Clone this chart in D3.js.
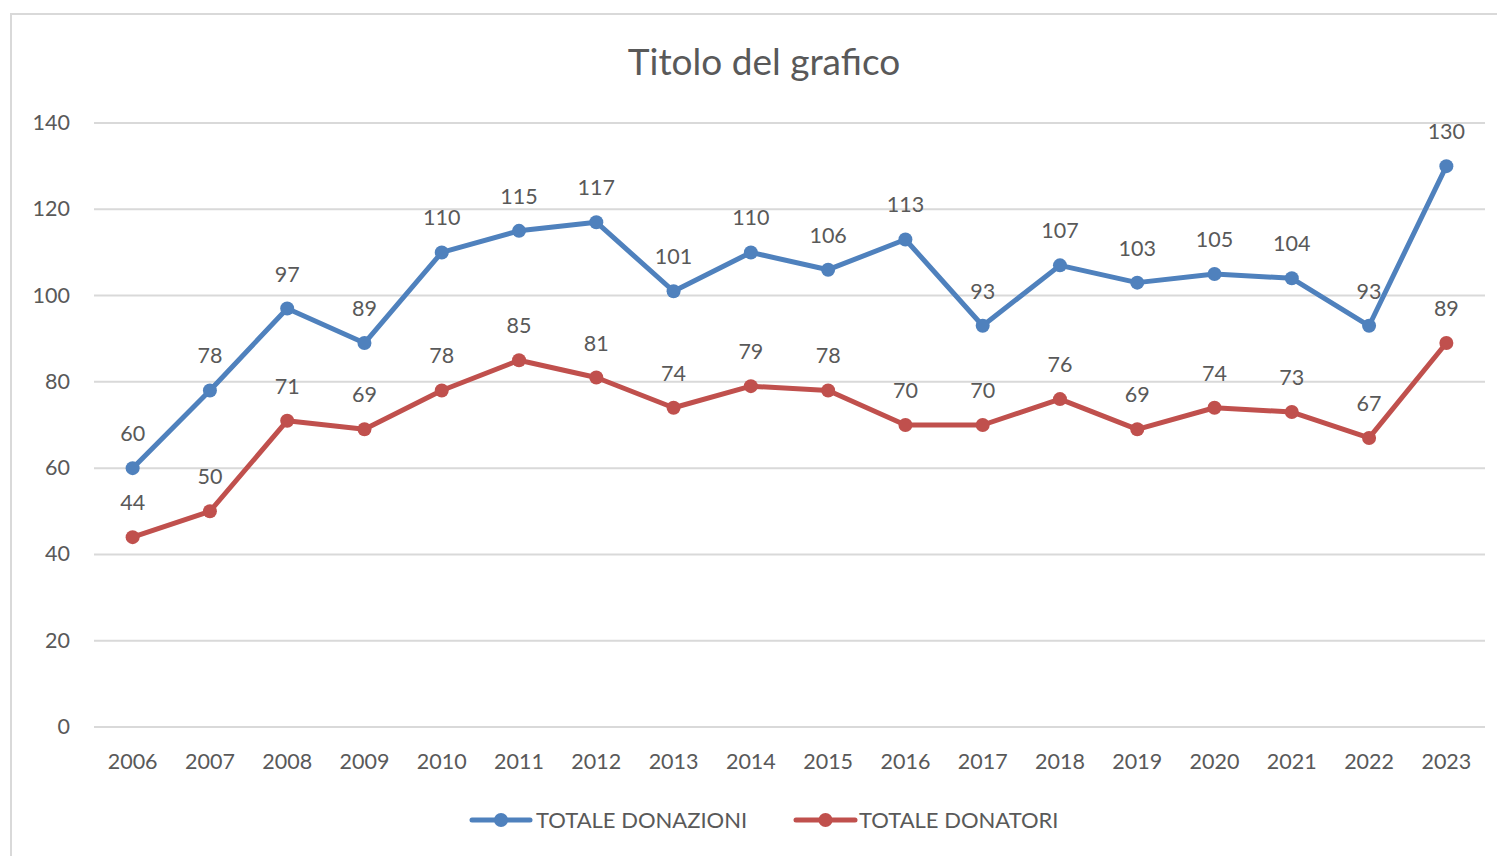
<!DOCTYPE html>
<html><head><meta charset="utf-8">
<script src="https://cdn.jsdelivr.net/npm/d3@7"></script>
<style>body{margin:0;background:#fff}svg{display:block}text{font-family:Lato,"Open Sans",sans-serif;fill:#595959}</style>
</head><body>
<script>
const years = ["2006","2007","2008","2009","2010","2011","2012","2013","2014","2015","2016","2017","2018","2019","2020","2021","2022","2023"];
const donazioni = [60,78,97,89,110,115,117,101,110,106,113,93,107,103,105,104,93,130];
const donatori = [44,50,71,69,78,85,81,74,79,78,70,70,76,69,74,73,67,89];
const yTicks = [0,20,40,60,80,100,120,140];
const seriesNames = ["TOTALE DONAZIONI","TOTALE DONATORI"];
const colors = ["#4F81BD","#C0504D"];

const W=1497,H=856;
const svg=d3.select("body").append("svg").attr("width",W).attr("height",H);
svg.append("rect").attr("x",11).attr("y",14).attr("width",W).attr("height",H).attr("fill","#fff").attr("stroke","#d9d9d9").attr("stroke-width",2);

const x=d3.scaleBand().domain(years).range([94,1485]);
const y=d3.scaleLinear().domain([0,140]).range([727,123]);

svg.append("text").attr("x",764).attr("y",75).attr("text-anchor","middle").style("font-size","37px").text("Titolo del grafico");

const g=svg.append("g");
g.selectAll("line.grid").data(yTicks).join("line").attr("x1",94).attr("x2",1485)
 .attr("y1",d=>y(d)).attr("y2",d=>y(d)).attr("stroke","#d9d9d9").attr("stroke-width",2);
g.selectAll("text.yt").data(yTicks).join("text").attr("x",70).attr("y",d=>y(d)+7)
 .attr("text-anchor","end").style("font-size","21.5px").text(d=>d);
g.selectAll("text.xt").data(years).join("text").attr("x",d=>x(d)+x.bandwidth()/2).attr("y",769)
 .attr("text-anchor","middle").style("font-size","21.5px").text(d=>d);

[donazioni,donatori].forEach((vals,i)=>{
  const data=years.map((yr,j)=>({yr,v:vals[j]}));
  const line=d3.line().x(d=>x(d.yr)+x.bandwidth()/2).y(d=>y(d.v));
  g.append("path").datum(data).attr("d",line).attr("fill","none").attr("stroke",colors[i])
   .attr("stroke-width",5).attr("stroke-linejoin","round").attr("stroke-linecap","round");
  g.selectAll(null).data(data).join("circle").attr("cx",d=>x(d.yr)+x.bandwidth()/2).attr("cy",d=>y(d.v))
   .attr("r",7).attr("fill",colors[i]);
  g.selectAll(null).data(data).join("text").attr("x",d=>x(d.yr)+x.bandwidth()/2).attr("y",d=>y(d.v)-27)
   .attr("text-anchor","middle").style("font-size","21.5px").text(d=>d.v);
});

const leg=[{x0:472,x1:530,tx:536},{x0:796,x1:855,tx:859}];
leg.forEach((l,i)=>{
  svg.append("line").attr("x1",l.x0).attr("x2",l.x1).attr("y1",820).attr("y2",820)
   .attr("stroke",colors[i]).attr("stroke-width",5).attr("stroke-linecap","round");
  svg.append("circle").attr("cx",(l.x0+l.x1)/2).attr("cy",820).attr("r",7).attr("fill",colors[i]);
  svg.append("text").attr("x",l.tx).attr("y",828).style("font-size","22px").text(seriesNames[i]);
});
</script>
</body></html>
